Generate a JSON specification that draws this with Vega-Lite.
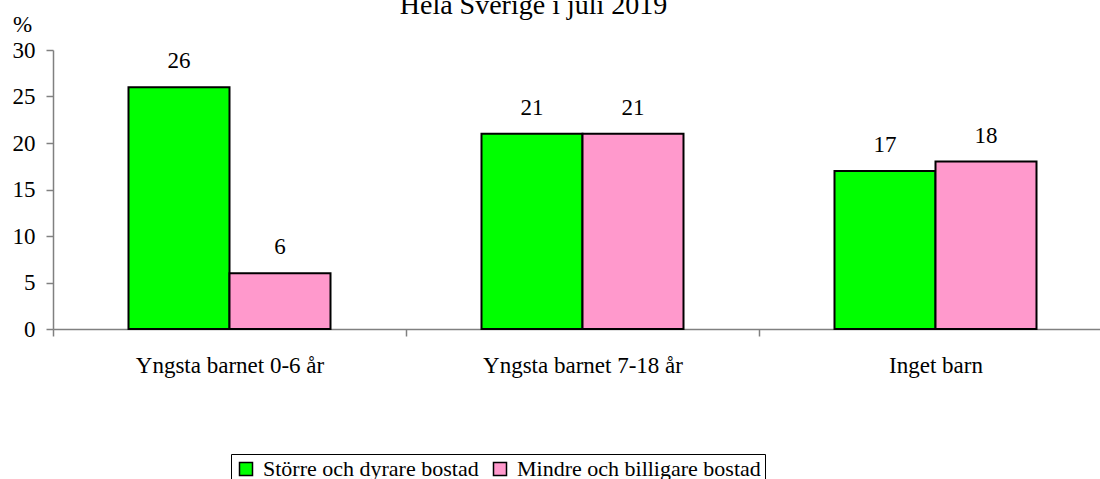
{
  "$schema": "https://vega.github.io/schema/vega-lite/v6.json",
  "width": 1047,
  "height": 279,
  "autosize": {"type": "none"},
  "padding": {"left": 53, "top": 50, "right": 0, "bottom": 150},
  "background": "white",
  "config": {
    "view": {"stroke": null},
    "font": "Liberation Serif, DejaVu Serif, serif"
  },
  "title": {
    "text": "Hela Sverige i juli 2019",
    "font": "Liberation Serif, DejaVu Serif, serif",
    "fontSize": 28,
    "fontWeight": "normal",
    "color": "black",
    "anchor": "middle",
    "frame": "group",
    "baseline": "alphabetic",
    "dx": -43,
    "dy": 29,
    "offset": 0
  },
  "data": {
    "values": [
      {"grupp": "Yngsta barnet 0-6 år", "typ": "Större och dyrare bostad", "procent": 26},
      {"grupp": "Yngsta barnet 0-6 år", "typ": "Mindre och billigare bostad", "procent": 6},
      {"grupp": "Yngsta barnet 7-18 år", "typ": "Större och dyrare bostad", "procent": 21},
      {"grupp": "Yngsta barnet 7-18 år", "typ": "Mindre och billigare bostad", "procent": 21},
      {"grupp": "Inget barn", "typ": "Större och dyrare bostad", "procent": 17},
      {"grupp": "Inget barn", "typ": "Mindre och billigare bostad", "procent": 18}
    ]
  },
  "encoding": {
    "x": {
      "field": "grupp",
      "type": "nominal",
      "sort": ["Yngsta barnet 0-6 år", "Yngsta barnet 7-18 år", "Inget barn"],
      "scale": {"range": [0, 1059], "paddingInner": 0, "paddingOuter": 0},
      "axis": {
        "title": null,
        "labelAngle": 0,
        "labelFont": "Liberation Serif, DejaVu Serif, serif",
        "labelFontSize": 23,
        "labelColor": "black",
        "labelBaseline": "alphabetic",
        "labelPadding": 36,
        "labelLimit": 400,
        "tickBand": "extent",
        "tickSize": 7,
        "tickColor": "#808080",
        "domainColor": "#808080",
        "domainWidth": 1.5,
        "tickWidth": 1.5,
        "grid": false
      }
    },
    "xOffset": {
      "field": "typ",
      "type": "nominal",
      "sort": ["Större och dyrare bostad", "Mindre och billigare bostad"],
      "scale": {"paddingInner": 0, "paddingOuter": 0.7475}
    },
    "y": {
      "field": "procent",
      "type": "quantitative",
      "scale": {"domain": [0, 30], "nice": false},
      "axis": {
        "title": "%",
        "titleAngle": 0,
        "titleFont": "Liberation Serif, DejaVu Serif, serif",
        "titleFontSize": 23,
        "titleFontWeight": "normal",
        "titleColor": "black",
        "titleAlign": "center",
        "titleBaseline": "alphabetic",
        "titleX": -31,
        "titleY": -19,
        "values": [0, 5, 10, 15, 20, 25, 30],
        "labelFont": "Liberation Serif, DejaVu Serif, serif",
        "labelFontSize": 23,
        "labelColor": "black",
        "labelPadding": 11,
        "tickSize": 7,
        "tickColor": "#808080",
        "domainColor": "#808080",
        "domainWidth": 1.5,
        "tickWidth": 1.5,
        "grid": false
      }
    }
  },
  "layer": [
    {
      "mark": {"type": "bar", "stroke": "black", "strokeWidth": 2},
      "encoding": {
        "color": {
          "field": "typ",
          "type": "nominal",
          "sort": ["Större och dyrare bostad", "Mindre och billigare bostad"],
          "scale": {
            "domain": ["Större och dyrare bostad", "Mindre och billigare bostad"],
            "range": ["#00FF00", "#FF99CC"]
          },
          "legend": {
            "title": null,
            "orient": "none",
            "direction": "horizontal",
            "legendX": 178,
            "legendY": 404,
            "symbolType": "square",
            "symbolSize": 169,
            "symbolStrokeColor": "black",
            "symbolStrokeWidth": 1.5,
            "symbolOpacity": 1,
            "labelFont": "Liberation Serif, DejaVu Serif, serif",
            "labelFontSize": 22,
            "labelColor": "black",
            "labelOffset": 6,
            "labelLimit": 400,
            "columnPadding": 10,
            "padding": 4,
            "strokeColor": "black",
            "fillColor": "white"
          }
        }
      }
    },
    {
      "mark": {
        "type": "text",
        "baseline": "alphabetic",
        "dy": -19,
        "font": "Liberation Serif, DejaVu Serif, serif",
        "fontSize": 23,
        "color": "black"
      },
      "encoding": {
        "text": {"field": "procent", "type": "quantitative"}
      }
    }
  ]
}
